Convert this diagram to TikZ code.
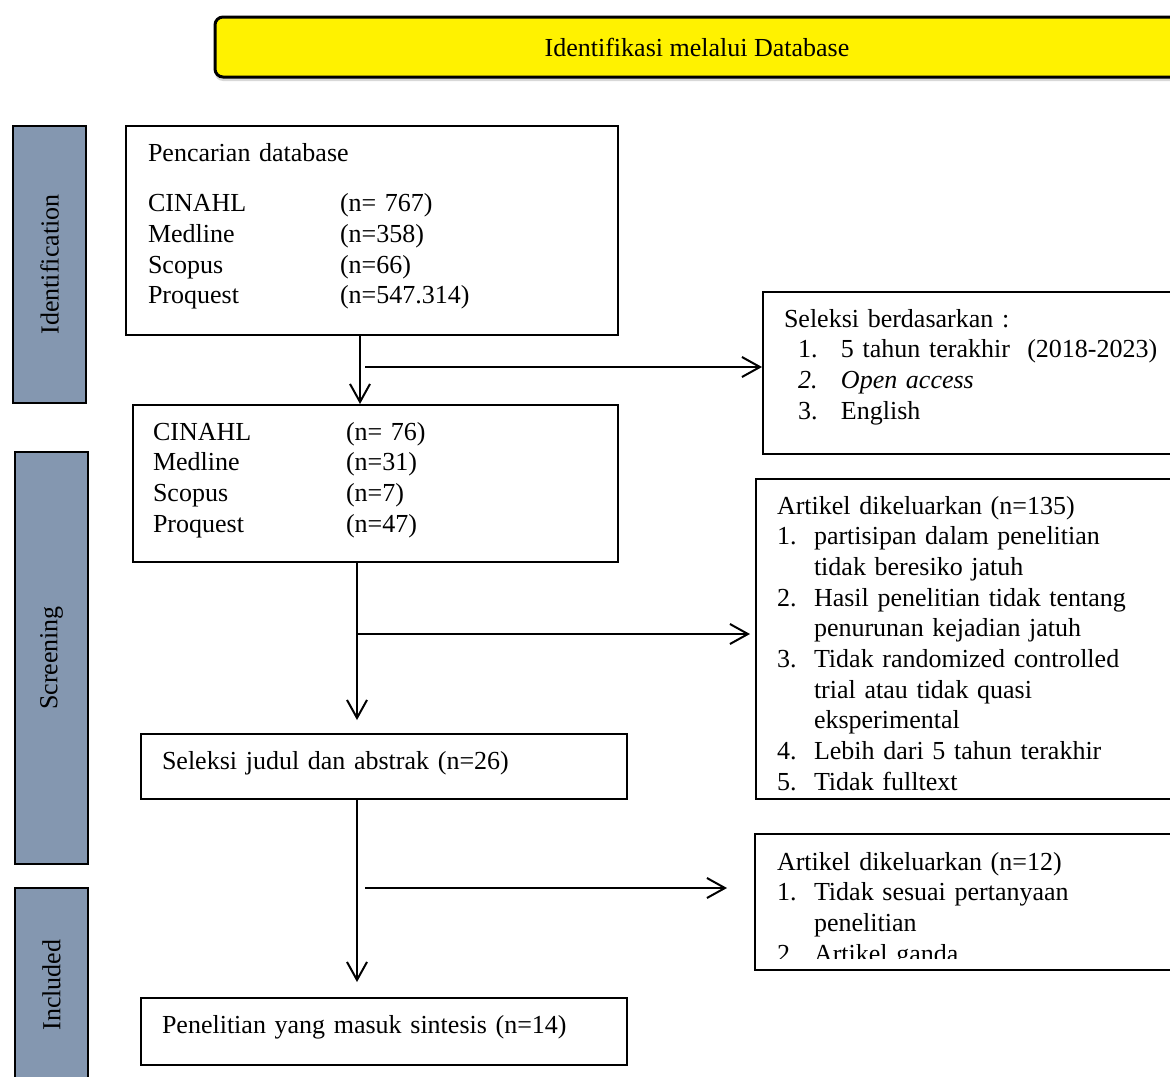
\documentclass[tikz,border=0pt]{standalone}
\usepackage{fontspec}
\setmainfont{Liberation Serif}
\usetikzlibrary{calc, arrows.meta, positioning, shadows}
\definecolor{phasegray}{HTML}{8497B0}

\begin{document}
\begin{tikzpicture}[x=0.5pt, y=-0.5pt, >={Straight Barb[length=9pt, width=10pt]}, line width=1pt,
    font=\fontsize{13pt}{15.35pt}\selectfont]
  % Estilos para los bloques, las fases y el encabezado
  \tikzstyle{block} = [draw, rectangle, anchor=north west, align=left, inner ysep=8pt, text height=9.5pt]
  \tikzstyle{phase} = [draw, rectangle, fill=phasegray, rotate=90, minimum height=36.5pt]
  \tikzstyle{banner} = [draw, line width=1.5pt, rounded corners=4pt, fill=yellow, minimum width=482pt,
    minimum height=30pt, drop shadow={shadow xshift=0pt, shadow yshift=-2pt, fill=gray!60}]

  \path[use as bounding box, clip] (0,0) rectangle (1170,1076);

  % Encabezado
  \node [banner] (header) at (697,47) {Identifikasi melalui Database};

  % Fases
  \node [phase, minimum width=138.5pt] (identification) at (49.5,264.5) {Identification};
  \node [phase, minimum width=206pt] (screening) at (51.5,658) {Screening};
  \node [phase, minimum width=97pt] (included) at (51.5,985) {Included};

  % Bloques principales
  \node [block, inner xsep=11pt, text width=224pt, text depth=79pt] (search) at (125,125)
    {Pencarian database\\[10pt]
     \makebox[96pt][l]{CINAHL}(n= 767)\\
     \makebox[96pt][l]{Medline}(n=358)\\
     \makebox[96pt][l]{Scopus}(n=66)\\
     \makebox[96pt][l]{Proquest}(n=547.314)};
  \node [block, inner xsep=10pt, text width=222.5pt, text depth=53pt] (filtered) at (132,404)
    {\makebox[96.5pt][l]{CINAHL}(n= 76)\\
     \makebox[96.5pt][l]{Medline}(n=31)\\
     \makebox[96.5pt][l]{Scopus}(n=7)\\
     \makebox[96.5pt][l]{Proquest}(n=47)};
  \node [block, inner xsep=10.5pt, text width=222pt, text depth=7pt] (titles) at (140,733)
    {Seleksi judul dan abstrak (n=26)};
  \node [block, inner xsep=10.5pt, text width=222pt, text depth=8pt] (synth) at (140,997)
    {Penelitian yang masuk sintesis (n=14)};

  % Bloques laterales
  \node [block, inner xsep=10.5pt, text width=219pt, text depth=55.5pt] (selA) at (762,291)
    {Seleksi berdasarkan :\\
     \hspace*{7pt}\makebox[21.5pt][l]{1.}5 tahun terakhir\ \ (2018-2023)\\
     \hspace*{7pt}\textit{\makebox[21.5pt][l]{2.}Open access}\\
     \hspace*{7pt}\makebox[21.5pt][l]{3.}English};
  \node [block, inner xsep=10.5pt, text width=219pt, text depth=134.5pt] (exclA) at (755,478)
    {Artikel dikeluarkan (n=135)\\
     \makebox[18.5pt][l]{1.}partisipan dalam penelitian\\
     \hspace*{18.5pt}tidak beresiko jatuh\\
     \makebox[18.5pt][l]{2.}Hasil penelitian tidak tentang\\
     \hspace*{18.5pt}penurunan kejadian jatuh\\
     \makebox[18.5pt][l]{3.}Tidak randomized controlled\\
     \hspace*{18.5pt}trial atau tidak quasi\\
     \hspace*{18.5pt}eksperimental\\
     \makebox[18.5pt][l]{4.}Lebih dari 5 tahun terakhir\\
     \makebox[18.5pt][l]{5.}Tidak fulltext};
  \begin{scope}
    \clip (700,800) rectangle (1170,958);
    \node [block, draw=none, inner xsep=10.5pt, text width=219pt, text depth=41.5pt] (exclB) at (755,834)
      {Artikel dikeluarkan (n=12)\\
       \makebox[18.5pt][l]{1.}Tidak sesuai pertanyaan\\
       \hspace*{18.5pt}penelitian\\
       \makebox[18.5pt][l]{2.}Artikel ganda};
  \end{scope}
  \draw (exclB.north west) rectangle (exclB.south east);

  % Puntos de bifurcación
  \coordinate (fork1) at (360,367);
  \coordinate (fork2) at (357,634);
  \coordinate (fork3) at (357,888);

  % Conexiones
  \draw [->] (search.south -| fork1) -- (filtered.north -| fork1);
  \draw [->] ([xshift=2.5pt]fork1) -- (selA.west |- fork1);
  \draw [->, shorten >=6.5pt] (filtered.south -| fork2) -- (titles.north -| fork2);
  \draw [->, shorten >=2.5pt] (fork2) -- (exclA.west |- fork2);
  \draw [->, shorten >=7.5pt] (titles.south -| fork3) -- (synth.north -| fork3);
  \draw [->, shorten >=14pt] ([xshift=4pt]fork3) -- (exclB.west |- fork3);
\end{tikzpicture}
\end{document}
